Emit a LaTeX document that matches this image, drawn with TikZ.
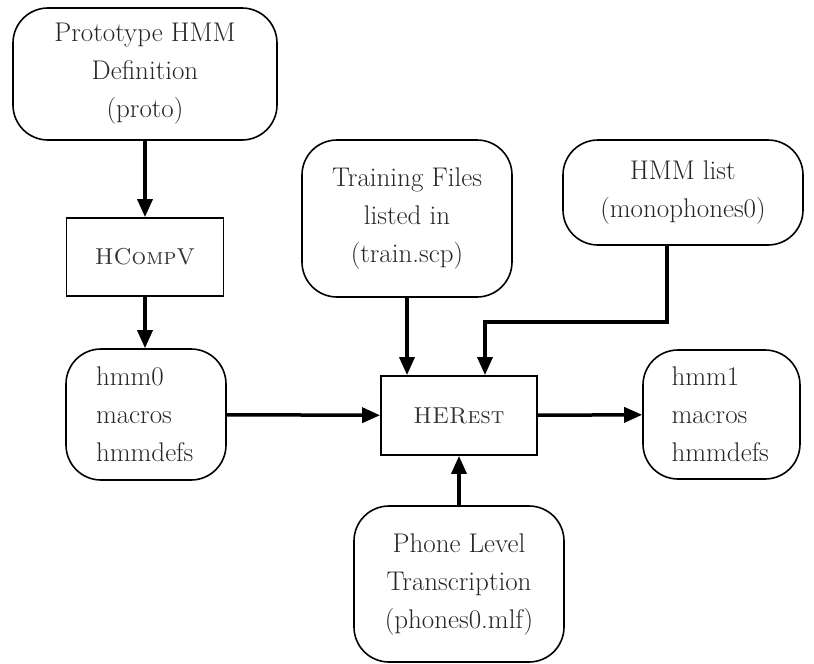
\documentclass[tikz,border=0pt]{standalone}
\usepackage{tikz}
\usetikzlibrary{arrows.meta, positioning, calc}

\tikzset{
  filebox/.style={draw, line width=1.6pt, rounded corners=35pt, align=center,
    text=black!85, font=\fontsize{27}{38}\selectfont, inner sep=0pt},
  toolbox/.style={draw, line width=1.8pt, align=center, text=black!80,
    font=\fontsize{23}{26}\selectfont, inner sep=0pt},
  flow/.style={line width=3.5pt, -{Triangle[length=18pt, width=15pt]}}
}

\begin{document}
\begin{tikzpicture}[x=1pt, y=-1pt]
        \useasboundingbox (0,0) rectangle (814,664);

        % Prototype definition (top left)
        \node[filebox, minimum width=264pt, minimum height=132pt] (proto) at (145,74)
          {Prototype HMM\\Definition\\(proto)};

        % HCompV tool
        \node[toolbox, minimum width=157pt, minimum height=78pt] (hcompv) at (145,257)
          {\textsc{HCompV}};

        % hmm0 (middle left)
        \node[filebox, minimum width=160pt, minimum height=131pt, text width=100pt,
          align=left] (hmm0) at (146,414.5) {hmm0\\macros\\hmmdefs};

        % Training files (top middle)
        \node[filebox, minimum width=210pt, minimum height=157pt] (train) at (407,218.5)
          {Training Files\\listed in\\(train.scp)};

        % HMM list (top right)
        \node[filebox, minimum width=240pt, minimum height=105pt] (hmmlist) at (683,192.5)
          {HMM list\\(monophones0)};

        % HERest tool (centre)
        \node[toolbox, minimum width=156pt, minimum height=79pt] (herest) at (459,415.5)
          {\textsc{HERest}};

        % hmm1 (middle right)
        \node[filebox, minimum width=157pt, minimum height=129pt, text width=100pt,
          align=left] (hmm1) at (721.5,414.5) {hmm1\\macros\\hmmdefs};

        % Phone level transcription (bottom)
        \node[filebox, minimum width=210pt, minimum height=156pt] (phone) at (459,584)
          {Phone Level\\Transcription\\(phones0.mlf)};

        % connectors
        \draw[flow] (proto) -- (hcompv);
        \draw[flow] (hcompv.south) -- (hcompv.south |- hmm0.north);
        \draw[flow] (hmm0) -- (herest);
        \draw[flow] (herest) -- (hmm1);
        \draw[flow] (phone) -- (herest);
        \draw[flow] (train.south) -- (train.south |- herest.north);
        \coordinate (listout) at ($(hmmlist.south)+(-16,0)$);
        \coordinate (listin) at ($(herest.north)+(26,0)$);
        \draw[flow] (listout) |- ($(listin)+(0,-53)$) -- (listin);
\end{tikzpicture}
\end{document}
